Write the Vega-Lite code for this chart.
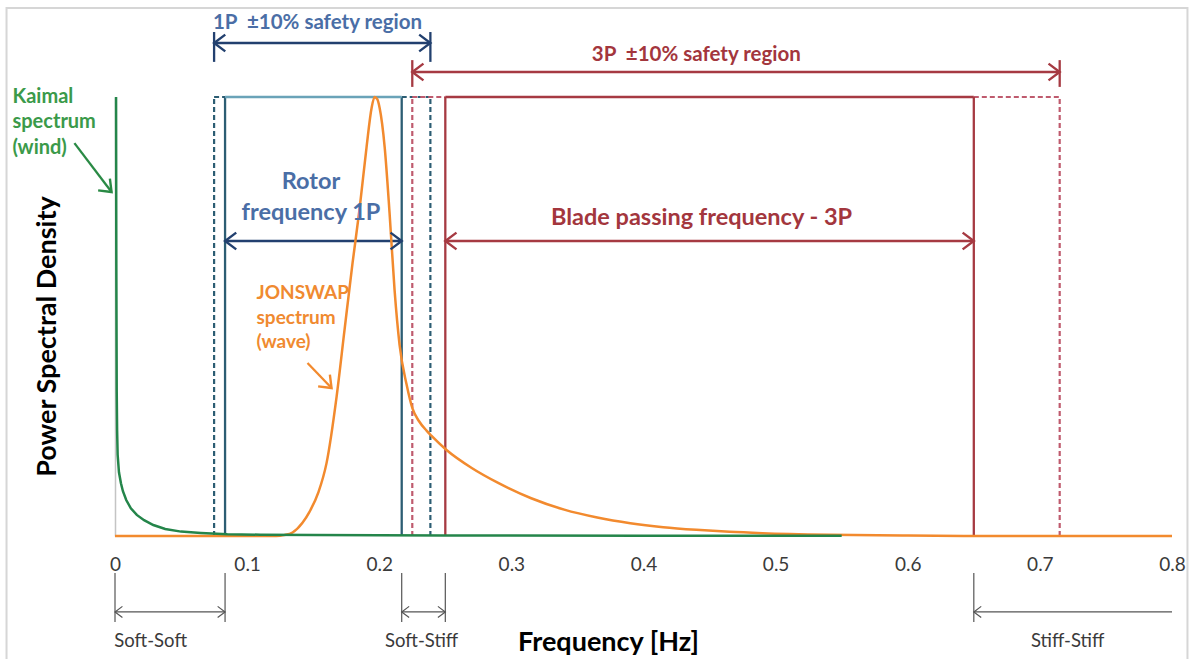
{
  "$schema": "https://vega.github.io/schema/vega-lite/v6.json",
  "width": 1057,
  "height": 439,
  "autosize": {"type": "none"},
  "padding": {"left": 115, "top": 97, "right": 20, "bottom": 123},
  "background": "white",
  "config": {"view": {"stroke": null}, "font": "Lato"},
  "datasets": {
    "frame": [{"x": -0.0821, "x2": 0.8117, "y": 1.2027, "y2": -0.38}],
    "curves": [
      {"s": "J", "x": 0.0, "y": 0.0}, {"s": "J", "x": 0.122, "y": 0.0}, {"s": "J", "x": 0.128, "y": 0.002},
      {"s": "J", "x": 0.1344, "y": 0.008}, {"s": "J", "x": 0.1419, "y": 0.03}, {"s": "J", "x": 0.1472, "y": 0.055},
      {"s": "J", "x": 0.154, "y": 0.1}, {"s": "J", "x": 0.1601, "y": 0.166}, {"s": "J", "x": 0.1677, "y": 0.317},
      {"s": "J", "x": 0.1737, "y": 0.469}, {"s": "J", "x": 0.1798, "y": 0.622}, {"s": "J", "x": 0.1851, "y": 0.745},
      {"s": "J", "x": 0.1904, "y": 0.886}, {"s": "J", "x": 0.1942, "y": 0.975}, {"s": "J", "x": 0.1965, "y": 1.0},
      {"s": "J", "x": 0.1985, "y": 0.995}, {"s": "J", "x": 0.2003, "y": 0.975}, {"s": "J", "x": 0.2041, "y": 0.886},
      {"s": "J", "x": 0.2078, "y": 0.736}, {"s": "J", "x": 0.2116, "y": 0.56}, {"s": "J", "x": 0.2154, "y": 0.435},
      {"s": "J", "x": 0.2207, "y": 0.345}, {"s": "J", "x": 0.2252, "y": 0.29}, {"s": "J", "x": 0.23, "y": 0.262},
      {"s": "J", "x": 0.2358, "y": 0.24}, {"s": "J", "x": 0.2396, "y": 0.228}, {"s": "J", "x": 0.2509, "y": 0.196},
      {"s": "J", "x": 0.27, "y": 0.155}, {"s": "J", "x": 0.29, "y": 0.121}, {"s": "J", "x": 0.315, "y": 0.086},
      {"s": "J", "x": 0.34, "y": 0.06}, {"s": "J", "x": 0.365, "y": 0.042}, {"s": "J", "x": 0.39, "y": 0.029},
      {"s": "J", "x": 0.415, "y": 0.02}, {"s": "J", "x": 0.44, "y": 0.014}, {"s": "J", "x": 0.465, "y": 0.0095},
      {"s": "J", "x": 0.49, "y": 0.0065}, {"s": "J", "x": 0.54, "y": 0.003}, {"s": "J", "x": 0.6, "y": 0.001},
      {"s": "J", "x": 0.67, "y": 0.0}, {"s": "J", "x": 0.8, "y": 0.0},
      {"s": "K", "x": 0.0008, "y": 1.0}, {"s": "K", "x": 0.001, "y": 0.62}, {"s": "K", "x": 0.0013, "y": 0.33},
      {"s": "K", "x": 0.0016, "y": 0.24}, {"s": "K", "x": 0.002, "y": 0.185}, {"s": "K", "x": 0.003, "y": 0.145},
      {"s": "K", "x": 0.0045, "y": 0.12}, {"s": "K", "x": 0.006, "y": 0.102}, {"s": "K", "x": 0.0085, "y": 0.082},
      {"s": "K", "x": 0.012, "y": 0.063}, {"s": "K", "x": 0.0165, "y": 0.048}, {"s": "K", "x": 0.022, "y": 0.036},
      {"s": "K", "x": 0.029, "y": 0.025}, {"s": "K", "x": 0.038, "y": 0.016}, {"s": "K", "x": 0.05, "y": 0.01},
      {"s": "K", "x": 0.065, "y": 0.007}, {"s": "K", "x": 0.085, "y": 0.004}, {"s": "K", "x": 0.11, "y": 0.003},
      {"s": "K", "x": 0.15, "y": 0.0022}, {"s": "K", "x": 0.25, "y": 0.0014}, {"s": "K", "x": 0.4, "y": 0.0008},
      {"s": "K", "x": 0.55, "y": 0.0004}
    ],
    "segs": [
      {"x": 0.0833, "y": 0, "x2": 0.0833, "y2": 1, "style": "blueBox"},
      {"x": 0.217, "y": 0, "x2": 0.217, "y2": 1, "style": "blueBox"},
      {"x": 0.25, "y": 0, "x2": 0.25, "y2": 1, "style": "redBox"},
      {"x": 0.65, "y": 0, "x2": 0.65, "y2": 1, "style": "redBox"},
      {"x": 0.0833, "y": 1, "x2": 0.217, "y2": 1, "style": "blueTop"},
      {"x": 0.25, "y": 1, "x2": 0.65, "y2": 1, "style": "redBox"},
      {"x": 0.075, "y": 1.123, "x2": 0.2387, "y2": 1.123, "style": "navy"},
      {"x": 0.075, "y": 1.148, "x2": 0.075, "y2": 1.08, "style": "navy"},
      {"x": 0.2387, "y": 1.148, "x2": 0.2387, "y2": 1.08, "style": "navy"},
      {"x": 0.225, "y": 1.057, "x2": 0.715, "y2": 1.057, "style": "red"},
      {"x": 0.225, "y": 1.084, "x2": 0.225, "y2": 1.023, "style": "red"},
      {"x": 0.715, "y": 1.084, "x2": 0.715, "y2": 1.023, "style": "red"},
      {"x": 0.0833, "y": 0.672, "x2": 0.217, "y2": 0.672, "style": "navy"},
      {"x": 0.25, "y": 0.672, "x2": 0.65, "y2": 0.672, "style": "red"},
      {"x": -0.0307, "y": 0.895, "x2": -0.0026, "y2": 0.7836, "style": "green"},
      {"x": 0.1457, "y": 0.394, "x2": 0.1639, "y2": 0.337, "style": "orange"},
      {"x": 0.075, "y": 0, "x2": 0.075, "y2": 1, "style": "blueDash"},
      {"x": 0.2387, "y": 0, "x2": 0.2387, "y2": 1, "style": "blueDash"},
      {"x": 0.225, "y": 0, "x2": 0.225, "y2": 1, "style": "redDash"},
      {"x": 0.715, "y": 0, "x2": 0.715, "y2": 1, "style": "redDash"},
      {"x": 0.075, "y": 1, "x2": 0.0833, "y2": 1, "style": "blueDash"},
      {"x": 0.217, "y": 1, "x2": 0.2387, "y2": 1, "style": "blueDash"},
      {"x": 0.225, "y": 1, "x2": 0.25, "y2": 1, "style": "redDash"},
      {"x": 0.65, "y": 1, "x2": 0.715, "y2": 1, "style": "redDash"},
      {"x": 0, "y": -0.084, "x2": 0, "y2": -0.196, "style": "grey"},
      {"x": 0.0833, "y": -0.084, "x2": 0.0833, "y2": -0.196, "style": "grey"},
      {"x": 0.217, "y": -0.084, "x2": 0.217, "y2": -0.196, "style": "grey"},
      {"x": 0.25, "y": -0.084, "x2": 0.25, "y2": -0.196, "style": "grey"},
      {"x": 0.65, "y": -0.084, "x2": 0.65, "y2": -0.196, "style": "grey"},
      {"x": 0, "y": -0.173, "x2": 0.0833, "y2": -0.173, "style": "grey"},
      {"x": 0.217, "y": -0.173, "x2": 0.25, "y2": -0.173, "style": "grey"},
      {"x": 0.65, "y": -0.173, "x2": 0.8, "y2": -0.173, "style": "grey"}
    ],
    "heads": [
      {"x": 0.075, "y": 1.123, "dir": "left", "style": "navy"},
      {"x": 0.2387, "y": 1.123, "dir": "right", "style": "navy"},
      {"x": 0.225, "y": 1.057, "dir": "left", "style": "red"},
      {"x": 0.715, "y": 1.057, "dir": "right", "style": "red"},
      {"x": 0.0833, "y": 0.672, "dir": "left", "style": "navy"},
      {"x": 0.217, "y": 0.672, "dir": "right", "style": "navy"},
      {"x": 0.25, "y": 0.672, "dir": "left", "style": "red"},
      {"x": 0.65, "y": 0.672, "dir": "right", "style": "red"},
      {"x": -0.0026, "y": 0.7836, "dir": "downright", "style": "green"},
      {"x": 0.1639, "y": 0.337, "dir": "downright", "style": "orange"},
      {"x": 0, "y": -0.173, "dir": "left", "style": "grey"},
      {"x": 0.0833, "y": -0.173, "dir": "right", "style": "grey"},
      {"x": 0.217, "y": -0.173, "dir": "left", "style": "grey"},
      {"x": 0.25, "y": -0.173, "dir": "right", "style": "grey"},
      {"x": 0.65, "y": -0.173, "dir": "left", "style": "grey"}
    ],
    "texts": [
      {"grp": "medC", "label": "1P \u00a0±10% safety region", "x": 0.1533, "y": 1.1686, "style": "blueText"},
      {"grp": "medC", "label": "3P \u00a0±10% safety region", "x": 0.44, "y": 1.0957, "style": "redText"},
      {"grp": "bigC", "label": "Rotor", "x": 0.1483, "y": 0.806, "style": "blueText"},
      {"grp": "bigC", "label": "frequency 1P", "x": 0.1483, "y": 0.736, "style": "blueText"},
      {"grp": "bigC", "label": "Blade passing frequency - 3P", "x": 0.4439, "y": 0.724, "style": "redText"},
      {"grp": "medL", "label": "Kaimal", "x": -0.0776, "y": 1.0, "style": "greenText"},
      {"grp": "medL", "label": "spectrum", "x": -0.0776, "y": 0.943, "style": "greenText"},
      {"grp": "medL", "label": "(wind)", "x": -0.0776, "y": 0.884, "style": "greenText"},
      {"grp": "medJ", "label": "JONSWAP", "x": 0.1071, "y": 0.5535, "style": "orangeText"},
      {"grp": "medJ", "label": "spectrum", "x": 0.1071, "y": 0.4966, "style": "orangeText"},
      {"grp": "medJ", "label": "(wave)", "x": 0.1071, "y": 0.4419, "style": "orangeText"},
      {"grp": "small", "label": "Soft-Soft", "x": 0.027, "y": -0.2392, "style": "greyText"},
      {"grp": "small", "label": "Soft-Stiff", "x": 0.232, "y": -0.2392, "style": "greyText"},
      {"grp": "small", "label": "Stiff-Stiff", "x": 0.721, "y": -0.2392, "style": "greyText"}
    ]
  },
  "encoding": {
    "x": {
      "field": "x", "type": "quantitative",
      "scale": {"domain": [0, 0.8], "nice": false, "zero": false},
      "axis": {
        "title": "Frequency [Hz]", "values": [0, 0.1, 0.2, 0.3, 0.4, 0.5, 0.6, 0.7, 0.8], "format": "~g",
        "domain": false, "ticks": false, "grid": false, "labelFontSize": 19, "labelColor": "#3a3a3a",
        "labelPadding": 19, "labelFlush": false, "labelOverlap": false,
        "titleFontSize": 27, "titleFontWeight": "bold", "titleColor": "#000000",
        "titleX": 493, "titleY": 106, "titleBaseline": "middle"
      }
    },
    "y": {
      "field": "y", "type": "quantitative",
      "scale": {"domain": [0, 1], "nice": false, "zero": false},
      "axis": {
        "title": "Power Spectral Density", "labels": false, "ticks": false, "grid": false,
        "domain": true, "domainColor": "#c4c4c4", "domainWidth": 1.5,
        "titleFontSize": 27, "titleFontWeight": "bold", "titleColor": "#000000",
        "titleX": -68, "titleY": 239, "titleBaseline": "middle", "titleAlign": "center"
      }
    }
  },
  "layer": [
    {
      "data": {"name": "frame"},
      "mark": {"type": "rect", "fillOpacity": 0, "stroke": "#d6d6d6", "strokeWidth": 2},
      "encoding": {"x2": {"field": "x2"}, "y2": {"field": "y2"}}
    },
    {
      "data": {"name": "segs"},
      "transform": [{"filter": "datum.style === 'blueDash' || datum.style === 'redDash'"}],
      "mark": {"type": "rule", "strokeWidth": 2.2, "strokeDash": [5, 3]},
      "encoding": {
        "x2": {"field": "x2"}, "y2": {"field": "y2"},
        "color": {"field": "style", "type": "nominal", "legend": null,
          "scale": {"domain": ["blueBox", "blueDash", "blueTop", "redBox", "redDash", "navy", "red", "grey", "green", "orange", "blueText", "redText", "greenText", "orangeText", "greyText"],
                    "range": ["#2c5d73", "#2c5d73", "#6aa3b8", "#a63a42", "#bf5b6e", "#22406f", "#a63a42", "#555555", "#2a8a45", "#f28a2e", "#4a6ea6", "#a3363d", "#3b9a4a", "#f08a30", "#3a3a3a"]}}
      }
    },
    {
      "data": {"name": "segs"},
      "transform": [{"filter": "datum.style !== 'blueDash' && datum.style !== 'redDash' && datum.style !== 'grey'"}],
      "mark": {"type": "rule", "strokeWidth": 2.3},
      "encoding": {
        "x2": {"field": "x2"}, "y2": {"field": "y2"},
        "color": {"field": "style", "type": "nominal", "legend": null}
      }
    },
    {
      "data": {"name": "segs"},
      "transform": [{"filter": "datum.style === 'grey'"}],
      "mark": {"type": "rule", "strokeWidth": 1.2},
      "encoding": {
        "x2": {"field": "x2"}, "y2": {"field": "y2"},
        "color": {"field": "style", "type": "nominal", "legend": null}
      }
    },
    {
      "data": {"name": "curves"},
      "transform": [{"filter": "datum.s === 'J'"}],
      "mark": {"type": "line", "color": "#f28a2e", "strokeWidth": 2.5, "interpolate": "monotone"}
    },
    {
      "data": {"name": "curves"},
      "transform": [{"filter": "datum.s === 'K'"}],
      "mark": {"type": "line", "color": "#24854a", "strokeWidth": 2.5, "interpolate": "linear"}
    },
    {
      "data": {"name": "heads"},
      "transform": [{"filter": "datum.style !== 'grey'"}],
      "mark": {"type": "point", "filled": false, "opacity": 1, "size": 500, "strokeWidth": 2.4},
      "encoding": {
        "shape": {"field": "dir", "type": "nominal", "legend": null,
          "scale": {"domain": ["left", "right", "downright"],
                    "range": ["M1,-0.75L0,0L1,0.75", "M-1,-0.75L0,0L-1,0.75", "M-1.2,-0.15L0,0L-0.15,-1.2"]}},
        "color": {"field": "style", "type": "nominal", "legend": null}
      }
    },
    {
      "data": {"name": "heads"},
      "transform": [{"filter": "datum.style === 'grey'"}],
      "mark": {"type": "point", "filled": false, "opacity": 1, "size": 220, "strokeWidth": 1.2},
      "encoding": {
        "shape": {"field": "dir", "type": "nominal", "legend": null},
        "color": {"field": "style", "type": "nominal", "legend": null}
      }
    },
    {
      "data": {"name": "texts"},
      "transform": [{"filter": "datum.grp === 'medC'"}],
      "mark": {"type": "text", "fontSize": 20.5, "fontWeight": "bold", "align": "center", "baseline": "middle"},
      "encoding": {"text": {"field": "label"}, "color": {"field": "style", "type": "nominal", "legend": null}}
    },
    {
      "data": {"name": "texts"},
      "transform": [{"filter": "datum.grp === 'bigC'"}],
      "mark": {"type": "text", "fontSize": 23.5, "fontWeight": "bold", "align": "center", "baseline": "middle"},
      "encoding": {"text": {"field": "label"}, "color": {"field": "style", "type": "nominal", "legend": null}}
    },
    {
      "data": {"name": "texts"},
      "transform": [{"filter": "datum.grp === 'medL'"}],
      "mark": {"type": "text", "fontSize": 20, "fontWeight": "bold", "align": "left", "baseline": "middle"},
      "encoding": {"text": {"field": "label"}, "color": {"field": "style", "type": "nominal", "legend": null}}
    },
    {
      "data": {"name": "texts"},
      "transform": [{"filter": "datum.grp === 'medJ'"}],
      "mark": {"type": "text", "fontSize": 19, "fontWeight": "bold", "align": "left", "baseline": "middle"},
      "encoding": {"text": {"field": "label"}, "color": {"field": "style", "type": "nominal", "legend": null}}
    },
    {
      "data": {"name": "texts"},
      "transform": [{"filter": "datum.grp === 'small'"}],
      "mark": {"type": "text", "fontSize": 18.5, "align": "center", "baseline": "middle"},
      "encoding": {"text": {"field": "label"}, "color": {"field": "style", "type": "nominal", "legend": null}}
    }
  ]
}
